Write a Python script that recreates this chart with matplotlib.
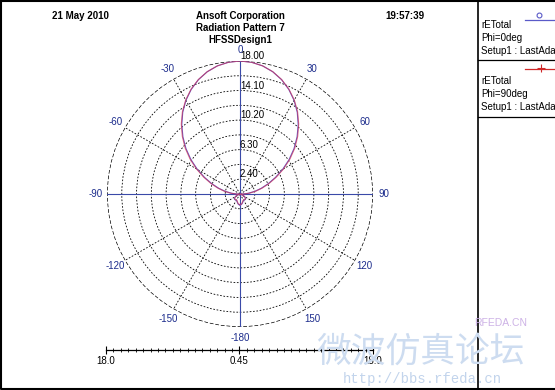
import numpy as np
import matplotlib.pyplot as plt
from matplotlib.lines import Line2D

plt.rcParams['font.family'] = ['Liberation Sans', 'Noto Sans CJK SC', 'DejaVu Sans']

# theta sweep (deg) and rETotal
theta_deg = np.arange(-180, 181, 5)
retotal_phi0 = [
    1.90, 1.88, 1.80, 1.68, 1.55, 1.45, 1.40, 1.42, 1.45, 1.45, 1.40, 1.30, 1.15,
    0.95, 0.70, 0.50, 0.50, 0.55, 0.85, 1.55, 2.40, 3.35, 4.40, 5.60, 6.95, 8.35,
    9.75, 11.10, 12.40, 13.62, 14.72, 15.68, 16.50, 17.15, 17.62, 17.90,
    18.00,
    17.90, 17.62, 17.15, 16.50, 15.68, 14.72, 13.62, 12.40, 11.10, 9.75, 8.35,
    6.95, 5.60, 4.40, 3.35, 2.40, 1.55, 0.85, 0.55, 0.50, 0.50, 0.70, 0.95, 1.15,
    1.30, 1.40, 1.45, 1.45, 1.42, 1.40, 1.45, 1.55, 1.68, 1.80, 1.88, 1.90,
]
retotal_phi90 = [
    1.85, 1.82, 1.75, 1.62, 1.50, 1.40, 1.35, 1.36, 1.40, 1.40, 1.35, 1.25, 1.10,
    0.90, 0.66, 0.50, 0.50, 0.60, 0.95, 1.70, 2.55, 3.50, 4.55, 5.75, 7.10, 8.50,
    9.90, 11.22, 12.50, 13.70, 14.78, 15.72, 16.52, 17.16, 17.62, 17.90,
    18.00,
    17.90, 17.62, 17.16, 16.52, 15.72, 14.78, 13.70, 12.50, 11.22, 9.90, 8.50,
    7.10, 5.75, 4.55, 3.50, 2.55, 1.70, 0.95, 0.60, 0.50, 0.50, 0.66, 0.90, 1.10,
    1.25, 1.35, 1.40, 1.40, 1.36, 1.35, 1.40, 1.50, 1.62, 1.75, 1.82, 1.85,
]

r_min, r_max = 0.45, 18.00
ring_vals = [2.40, 4.35, 6.30, 8.25, 10.20, 12.15, 14.10, 16.05, 17.99]
ring_labels = [2.40, 6.30, 10.20, 14.10, 18.00]
angle_ticks = np.arange(0, 360, 30)
angle_labels = ['0', '30', '60', '90', '120', '150', '-180',
                '-150', '-120', '-90', '-60', '-30']
scale_ticks = [-17.55, 0.0, 17.55]
scale_labels = ['18.0', '0.45', '18.0']

W, H = 555, 390
NAVY = '#1c2c8c'


def fx(x):
    return x / W


def fy(y):
    return 1 - y / H


fig = plt.figure(figsize=(W / 100, H / 100), dpi=100)
fig.patch.set_facecolor('white')

# ---- polar plot ----
cx, cy, R = 240, 194, 133
ax = fig.add_axes([fx(cx - R), fy(cy + R), 2 * R / W, 2 * R / H], projection='polar')
ax.set_theta_zero_location('N')
ax.set_theta_direction(-1)
ax.set_ylim(r_min, r_max)
ax.set_yticks(ring_vals)
ax.set_yticklabels([])
ax.set_xticks(np.deg2rad(angle_ticks))
ax.set_xticklabels(angle_labels)
ax.set_xticks(np.deg2rad(np.arange(0, 360, 5)), minor=True)
ax.grid(True, color='black', linestyle=(0, (2, 2)), linewidth=0.6)
ax.yaxis.get_gridlines()[-1].set_linewidth(0.9)
ax.yaxis.get_gridlines()[-1].set_linestyle((0, (3, 1.5)))
ax.tick_params(axis='x', which='major', pad=1, labelsize=7, labelcolor=NAVY,
               direction='in', length=4, width=0.8)
ax.tick_params(axis='x', which='minor', direction='in', length=3, width=0.8)
ax.spines['polar'].set_visible(False)

for a in [0, 90, 180, 270]:
    ax.axvline(np.deg2rad(a), color='#3a4aa8', linewidth=0.8)

for v in ring_labels:
    ax.text(0, v, f'{v:.2f}', ha='left', va='bottom', fontsize=7, color='black')

th = np.deg2rad(theta_deg)
ax.plot(th, retotal_phi0, color='#6a5ac8', linewidth=0.8)
ax.plot(th, retotal_phi90, color='#d03050', linewidth=0.8, alpha=0.65)

# ---- scale bar ----
sx0, sx1, sy = 106, 373, 350
ax2 = fig.add_axes([fx(sx0), fy(sy), (sx1 - sx0) / W, 0.0001])
ax2.set_xlim(-17.55, 17.55)
ax2.set_yticks([])
for s in ['left', 'right', 'top']:
    ax2.spines[s].set_visible(False)
ax2.spines['bottom'].set_linewidth(0.9)
ax2.set_xticks(scale_ticks)
ax2.set_xticklabels(scale_labels)
ax2.set_xticks(np.arange(-17.55, 17.56, 0.975), minor=True)
ax2.tick_params(axis='x', which='major', direction='inout', length=6, width=0.8,
                labelsize=7, pad=1)
ax2.tick_params(axis='x', which='minor', direction='inout', length=3, width=0.6)

# ---- header ----
fig.text(fx(80), fy(16), '21 May 2010', ha='center', va='center',
         fontsize=7, fontweight='bold')
fig.text(fx(240), fy(16), 'Ansoft Corporation', ha='center', va='center',
         fontsize=7, fontweight='bold')
fig.text(fx(240), fy(28), 'Radiation Pattern 7', ha='center', va='center',
         fontsize=7, fontweight='bold')
fig.text(fx(240), fy(40), 'HFSSDesign1', ha='center', va='center',
         fontsize=7, fontweight='bold')
fig.text(fx(405), fy(16), '19:57:39', ha='center', va='center',
         fontsize=7, fontweight='bold')

# ---- legend panel ----
fig.add_artist(Line2D([fx(478), fx(478)], [fy(0), fy(H)], color='black', linewidth=1.2))
for yy in [60, 117]:
    fig.add_artist(Line2D([fx(478), fx(W)], [fy(yy), fy(yy)], color='black', linewidth=0.9))

fig.add_artist(Line2D([fx(525), fx(W)], [fy(20), fy(20)], color='#5a5ac8', linewidth=0.9))
fig.add_artist(Line2D([fx(539)], [fy(15)], color='#5a5ac8', marker='o',
                      markersize=3.5, markerfacecolor='none', markeredgewidth=0.8))
fig.add_artist(Line2D([fx(525), fx(W)], [fy(69), fy(69)], color='#d02828', linewidth=0.9))
fig.add_artist(Line2D([fx(541)], [fy(68)], color='#d02828', marker='+',
                      markersize=6, markeredgewidth=0.8))

for y0, phi in [(25, 'Phi=0deg'), (81, 'Phi=90deg')]:
    for k, t in enumerate(['rETotal', phi, 'Setup1 : LastAdaptive']):
        fig.text(fx(481), fy(y0 + 13 * k), t, ha='left', va='center', fontsize=7)

# ---- watermark ----
fig.text(fx(421), fy(352), '微波仿真论坛', ha='center', va='center', fontsize=25,
         color='#cddcf0', family=['Noto Sans CJK SC'])
fig.text(fx(422), fy(379), 'http://bbs.rfeda.cn', ha='center', va='center',
         fontsize=10, color='#c2d4ec', family=['Liberation Mono'])
fig.text(fx(501), fy(323), 'RFEDA.CN', ha='center', va='center', fontsize=7.5,
         color='#cdb2e6')

# ---- outer border ----
fig.add_artist(Line2D([fx(1), fx(1), fx(W + 5)], [fy(1), fy(H - 1), fy(H - 1)],
                      color='black', linewidth=1.5))
fig.add_artist(Line2D([fx(1), fx(W + 5)], [fy(1), fy(1)], color='black', linewidth=1.5))

fig.savefig('out.png', dpi=100)
